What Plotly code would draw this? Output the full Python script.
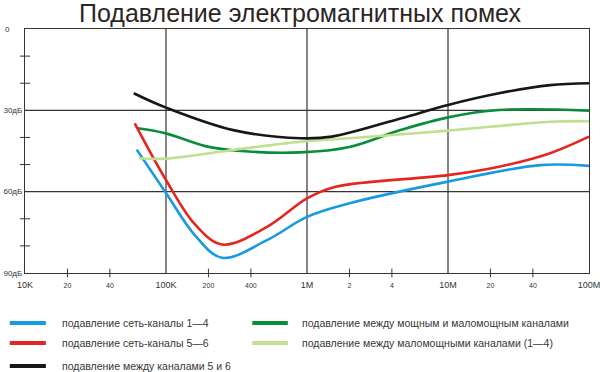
import plotly.graph_objects as go

# ---------------- data ----------------
title = "Подавление электромагнитных помех"

s_names = [
    "подавление сеть-каналы 1—4",
    "подавление между мощным и маломощным каналами",
    "подавление сеть-каналы 5—6",
    "подавление между маломощными каналами (1—4)",
    "подавление между каналами 5 и 6",
]
s_colors = ["#159be0", "#078d3c", "#e3261f", "#bfe08c", "#1a1616"]

blue_f = [6.2e4, 1.0e5, 1.6e5, 2.5e5, 5.2e5, 1.0e6, 2.0e6, 1.0e7, 4.5e7, 1.0e8]
blue_db = [44.5, 60.5, 76, 84.4, 77.9, 69.3, 64.3, 56.3, 50.2, 50.5]

green_f = [6.3e4, 1.0e5, 1.9e5, 3.4e5, 9.0e5, 2.0e6, 4.6e6, 1.0e7, 2.3e7, 1.0e8]
green_db = [36.6, 38.5, 43.2, 45.0, 45.5, 43.5, 37.3, 32.6, 29.9, 30.1]

red_f = [6.0e4, 1.0e5, 1.6e5, 2.5e5, 5.2e5, 1.0e6, 1.6e6, 1.0e7, 2.3e7, 5.3e7, 1.0e8]
red_db = [34.8, 55.7, 72, 79.5, 73.0, 62.5, 58.2, 53.9, 50.8, 45.8, 39.7]

lgreen_f = [6.4e4, 1.0e5, 3.0e5, 9.0e5, 2.0e6, 1.0e7, 5.3e7, 1.0e8]
lgreen_db = [47.7, 47.8, 44.6, 41.6, 40.3, 37.5, 34.2, 34.0]

black_f = [5.9e4, 1.0e5, 3.0e5, 9.0e5, 1.5e6, 4.6e6, 1.0e7, 2.3e7, 5.3e7, 1.0e8]
black_db = [23.7, 29.0, 37.3, 40.3, 39.7, 33.0, 28.0, 23.7, 20.7, 20.0]

series_f = [blue_f, green_f, red_f, lgreen_f, black_f]
series_db = [blue_db, green_db, red_db, lgreen_db, black_db]

x_major = [1e4, 1e5, 1e6, 1e7, 1e8]
x_major_text = ["10K", "100K", "1M", "10M", "100M"]
x_minor = [2e4, 4e4, 2e5, 4e5, 2e6, 4e6, 2e7, 4e7]
x_minor_text = ["20", "40", "200", "400", "2", "4", "20", "40"]

y_major = [0, 30, 60, 90]
y_major_text = ["0", "30дБ", "60дБ", "90дБ"]
y_minor = [10, 20, 40, 50, 70, 80]

# legend layout (columns / rows), in plot-area fractions
leg_col = [0, 1, 0, 1, 0]
leg_row = [0, 0, 1, 1, 2]
col_line_x = [(-0.027, 0.037), (0.403, 0.466)]
col_text_x = [0.062, 0.488]
row_y = [-0.205, -0.287, -0.381]

# ---------------- figure ----------------
fig = go.Figure()
for name, col, fx, dbv in zip(s_names, s_colors, series_f, series_db):
    fig.add_trace(go.Scatter(
        x=fx, y=dbv, mode="lines", name=name, showlegend=False,
        line=dict(color=col, width=2.6, shape="spline", smoothing=1.0),
    ))

GRID = "#3a3333"
shapes = []
annotations = []
for v in x_major[1:-1]:
    shapes.append(dict(type="line", xref="x", yref="paper", x0=v, x1=v, y0=0, y1=1,
                       line=dict(color=GRID, width=1.2), layer="below"))
for v in y_major[1:-1]:
    shapes.append(dict(type="line", xref="paper", yref="y", x0=0, x1=1, y0=v, y1=v,
                       line=dict(color=GRID, width=1.2), layer="below"))
for v in x_minor:
    shapes.append(dict(type="line", xref="x", yref="paper", x0=v, x1=v, y0=-0.018, y1=0.018,
                       line=dict(color=GRID, width=1)))
for v in y_minor:
    shapes.append(dict(type="line", xref="paper", yref="y", x0=-0.009, x1=0.009, y0=v, y1=v,
                       line=dict(color=GRID, width=1)))

# manual legend
for name, col, c, r in zip(s_names, s_colors, leg_col, leg_row):
    shapes.append(dict(type="line", xref="paper", yref="paper",
                       x0=col_line_x[c][0], x1=col_line_x[c][1], y0=row_y[r], y1=row_y[r],
                       line=dict(color=col, width=4)))
    annotations.append(dict(text=name, xref="paper", yref="paper", x=col_text_x[c], y=row_y[r],
                            xanchor="left", yanchor="middle", showarrow=False,
                            font=dict(size=10.5, color="#3a3636")))

# "0" label sits at the far left in the reference
annotations.append(dict(text=y_major_text[0], xref="paper", yref="y", x=-0.039, y=y_major[0],
                        xanchor="left", yanchor="middle", showarrow=False,
                        font=dict(size=8, color="#333333")))

tickvals = x_major + x_minor
ticktext = x_major_text + ["<span style='font-size:7px'>%s</span>" % t for t in x_minor_text]

fig.update_layout(
    width=600, height=372,
    margin=dict(l=25, r=11, t=29, b=99, autoexpand=False),
    paper_bgcolor="white", plot_bgcolor="white",
    font=dict(family="Liberation Sans, Arial, sans-serif", color="#333333", size=9),
    title=dict(text=title, x=0.5, xref="container", y=0.988, yanchor="top", xanchor="center",
               font=dict(size=25, color="#2a2626")),
    showlegend=False,
    shapes=shapes,
    annotations=annotations,
)
fig.update_xaxes(
    type="log", range=[4, 8], tickvals=tickvals, ticktext=ticktext, automargin=False,
    ticklabeloverflow="allow", ticklabelstandoff=3,
    showgrid=False, zeroline=False, showline=True, linecolor=GRID, linewidth=1.2, mirror=True,
    ticks="", ticklen=0, tickfont=dict(size=9, color="#333333"),
)
fig.update_yaxes(
    range=[90, 0], tickvals=y_major[1:], ticktext=y_major_text[1:], automargin=False,
    ticklabeloverflow="allow",
    showgrid=False, zeroline=False, showline=True, linecolor=GRID, linewidth=1.2, mirror=True,
    ticks="", tickfont=dict(size=8, color="#333333"),
)

fig.write_html("out.html", config={"displayModeBar": False},
               post_script="document.body.style.margin='0';")
